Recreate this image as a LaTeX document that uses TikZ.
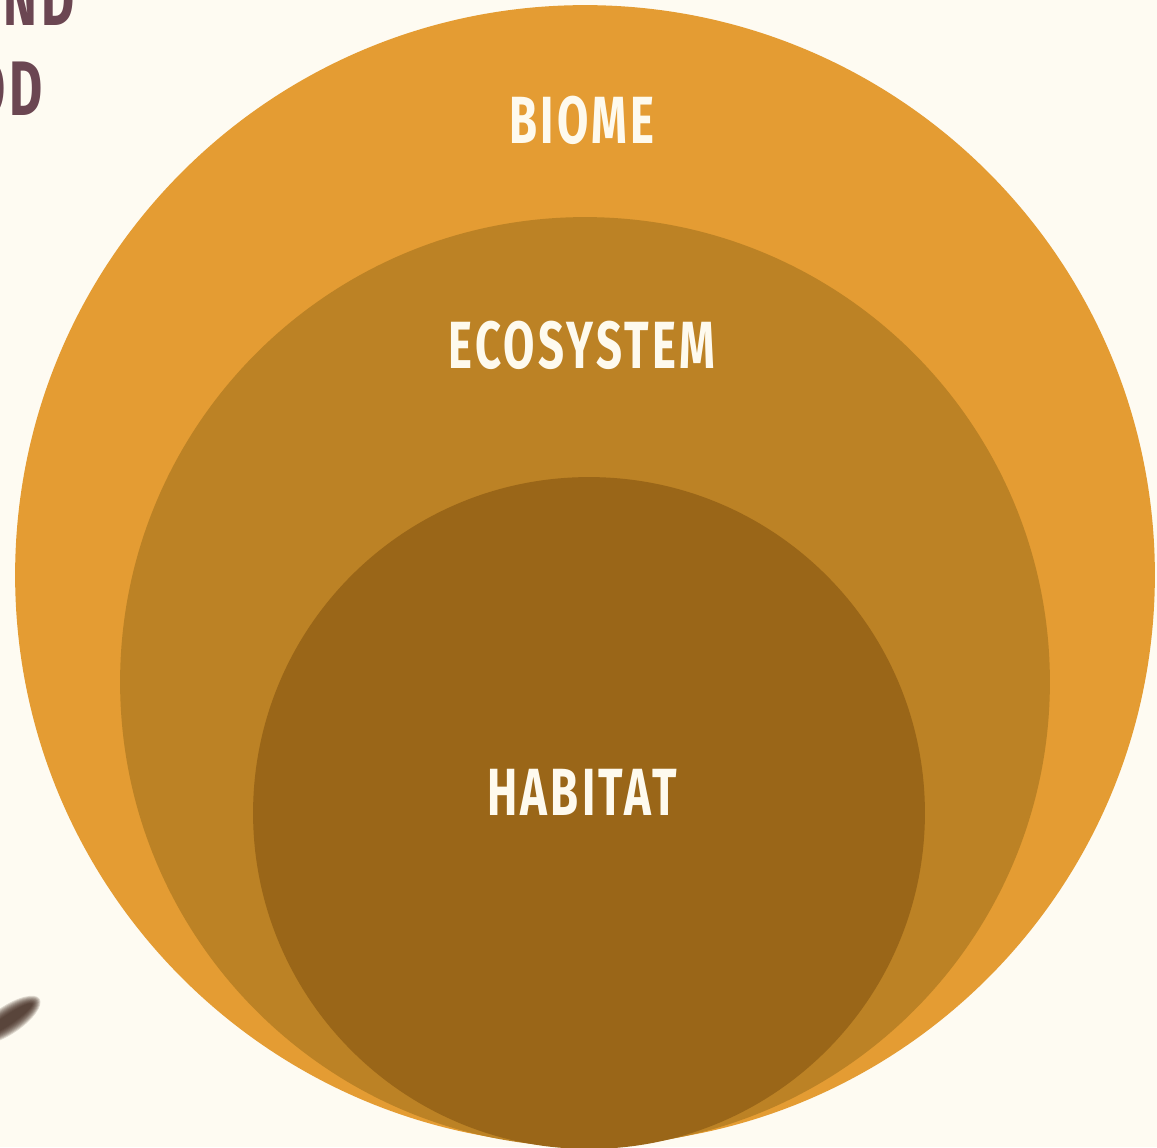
\documentclass[tikz,border=0pt]{standalone}
\usepackage{fontspec}
\usepackage{xcolor}
\usetikzlibrary{positioning}
\newfontfamily\labelfont[FakeStretch=0.68, LetterSpace=5]{Fira Sans}
\newfontfamily\headfont[FakeStretch=0.66, LetterSpace=5]{Fira Sans}
\definecolor{paper}{HTML}{FEFBF2}
\definecolor{biomefill}{HTML}{E49C33}
\definecolor{ecofill}{HTML}{BC8225}
\definecolor{habfill}{HTML}{9A6618}
\definecolor{cream}{HTML}{FEFAEE}
\definecolor{mauve}{HTML}{6B4652}
\definecolor{smudge}{HTML}{3A2218}
\tikzset{
  ring/.style={circle, draw=none, inner sep=0pt},
  ringlbl/.style={font=\labelfont\bfseries\fontsize{38}{40}\selectfont,
                  text=cream, inner sep=0pt, anchor=base},
  headfrag/.style={font=\headfont\bfseries\fontsize{44}{46}\selectfont,
                   text=mauve, inner sep=0pt, anchor=base east},
}

\begin{document}
\begin{tikzpicture}[x=0.02cm, y=-0.02cm]

% =========================================================================
% frame and page colour
% =========================================================================
\useasboundingbox (0,0) rectangle (1157,1147);
\clip (0,0) rectangle (1157,1147);
\fill[paper] (0,0) rectangle (1157,1147);

% cut-off heading, top left
\node[headfrag] (headA) at (75,25) {AND};
\node[headfrag] (headB) at (43,115) {OD};

% blurred brush stroke, bottom left
\foreach \w in {14,13,...,5} {
  \fill[smudge, opacity=0.16, rotate around={34:(8,1020)}]
    (8,1020) ellipse ({24+\w} and {\w});
}

% =========================================================================
% nested circles
% =========================================================================
\node[ring, fill=biomefill, minimum size=22.8cm] (biome) at (585,575) {};
\node[ring, fill=ecofill,   minimum size=18.6cm] (eco)   at (585,682) {};
\node[ring, fill=habfill,   minimum size=13.44cm] (hab)  at (589,813) {};

\node[ringlbl] (biomelbl) at (582,143) {BIOME};
\node[ringlbl] (ecolbl)   at (582,368) {ECOSYSTEM};
\node[ringlbl] (hablbl)   at (582,815) {HABITAT};

\end{tikzpicture}
\end{document}
